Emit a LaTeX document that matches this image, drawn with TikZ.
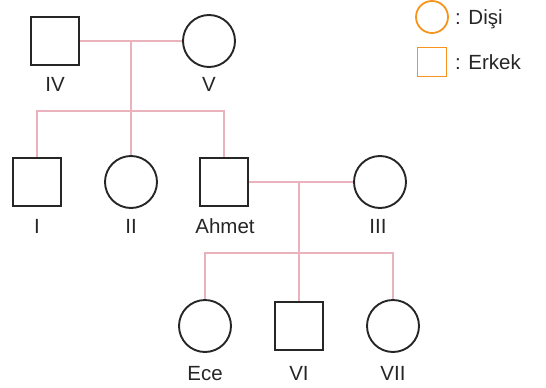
\documentclass[tikz,border=0pt]{standalone}
\usepackage{fontspec}
\setmainfont{Liberation Sans}
\usepackage{xcolor}
\usetikzlibrary{positioning,calc}

\definecolor{linkpink}{RGB}{234,178,189}
\definecolor{keyorange}{RGB}{247,148,30}

\tikzset{
    male/.style={draw=black!85, line width=1.9pt, rectangle, minimum size=48pt, inner sep=0pt},
    female/.style={draw=black!85, line width=1.9pt, circle, minimum size=52pt, inner sep=0pt},
    link/.style={draw=linkpink, line width=2.5pt},
    tag/.style={font=\fontsize{20.5}{20.5}\selectfont, text=black!85, inner sep=0pt, anchor=base}
}

\begin{document}
\begin{tikzpicture}[x=1pt, y=-1pt]
    \useasboundingbox (0,0) rectangle (546,388);

    % Join points
    \coordinate (gp) at (131,41);
    \coordinate (sib1) at (131,111);
    \coordinate (par) at (299,182);
    \coordinate (sib2) at (299,253);

    % Grandparents
    \node[male] (IV) at (55,41) {};
    \node[female] (V) at (209,41) {};
    \node[tag] (tIV) at (55,91) {IV};
    \node[tag] (tV) at (209,91) {V};

    % Children
    \node[male] (I) at (37,182) {};
    \node[female] (II) at (131,182) {};
    \node[male] (Ahmet) at (224,182) {};
    \node[female] (III) at (380,182) {};
    \node[tag] (tI) at (37,233) {I};
    \node[tag] (tII) at (131,233) {II};
    \node[tag] (tAhmet) at (225,233) {Ahmet};
    \node[tag] (tIII) at (378,233) {III};

    % Grandchildren
    \node[female] (Ece) at (205,326) {};
    \node[male] (VI) at (299,326) {};
    \node[female] (VII) at (393,326) {};
    \node[tag] (tEce) at (205,380) {Ece};
    \node[tag] (tVI) at (299,380) {VI};
    \node[tag] (tVII) at (393,380) {VII};

    % Links
    \draw[link] (IV.east) -- (V.west);
    \draw[link] (gp) -- (sib1);
    \draw[link] (I.north) |- (sib1) -| (Ahmet.north);
    \draw[link] (sib1) -- (II.north);

    \draw[link] (Ahmet.east) -- (III.west);
    \draw[link] (par) -- (sib2);
    \draw[link] (Ece.north) |- (sib2) -| (VII.north);
    \draw[link] (sib2) -- (VI.north);

    % Key
    \node[circle, draw=keyorange, line width=1.8pt, minimum size=32pt, inner sep=0pt] (keyF) at (432,17) {};
    \node[rectangle, draw=keyorange, line width=1.8pt, minimum size=29pt, inner sep=0pt] (keyM) at (432,62) {};
    \node[tag, anchor=base west] (tkeyF) at (455,24) {: Dişi};
    \node[tag, anchor=base west] (tkeyM) at (455,69) {: Erkek};
\end{tikzpicture}
\end{document}
